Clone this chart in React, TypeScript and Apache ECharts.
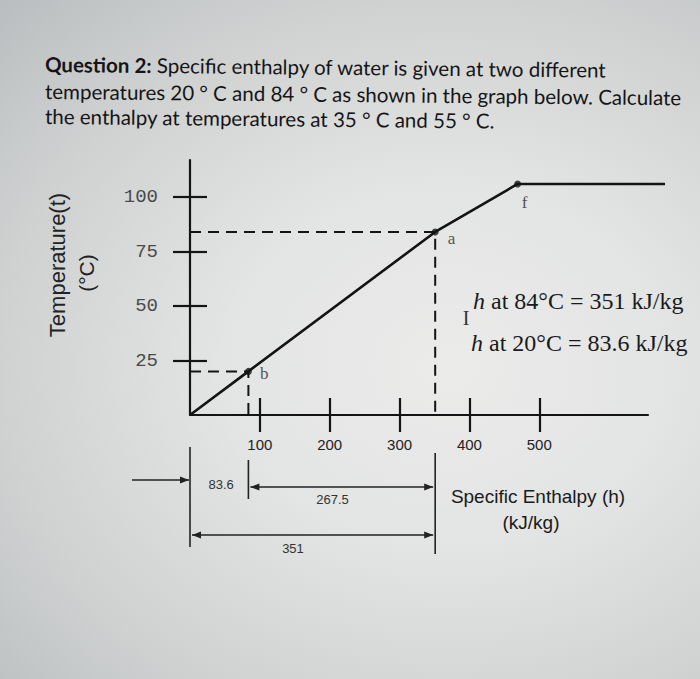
import React, { useEffect, useRef } from "react";
import * as echarts from "echarts";

// ---- data ----
const enthalpyTicks = [100, 200, 300, 400, 500];
const temperatureTicks = [25, 50, 75, 100];
const curveEnthalpy = [0, 83.6, 351, 469, 680];
const curveTemperature = [0, 20, 84, 106, 106];
const pointNames = ["b", "a", "f"];
const pointEnthalpy = [83.6, 351, 469];
const pointTemperature = [20, 84, 106];
const guideEnthalpy = [83.6, 351];
const guideTemperature = [20, 84];
const hAt20 = 83.6;
const hAt84 = 351;
const hDifference = 267.5;
const titleLines = [
  "Specific enthalpy of water is given at two different",
  "temperatures 20 ° C and 84 ° C as shown in the graph below. Calculate",
  "the enthalpy at temperatures at 35 ° C and 55 ° C.",
];
const titleLead = "Question 2:";
const noteLines = [
  { t: "84°C", h: "351 kJ/kg" },
  { t: "20°C", h: "83.6 kJ/kg" },
];

const INK = "#141414";
const SANS = "Liberation Sans, Arial, sans-serif";
const SERIF = "Liberation Serif, Times New Roman, serif";
const TITLE_FONT = "Lato, Open Sans, sans-serif";

export default function App() {
  const ref = useRef<HTMLDivElement>(null);

  useEffect(() => {
    const chart = echarts.init(ref.current as HTMLDivElement, null, { renderer: "svg" });
    const axisLine = { color: INK, width: 2.2 };

    const labelPlacement = [
      { position: "right", offset: [3, 2] },
      { position: "right", offset: [4, 7] },
      { position: "bottom", offset: [7, 2] },
    ];

    const option: any = {
      animation: false,
      backgroundColor: "transparent",
      grid: [
        { left: 190, top: 160, width: 475, height: 255, containLabel: false },
        { left: 190, top: 160, width: 458, height: 255, containLabel: false },
      ],
      xAxis: [
        {
          type: "value",
          gridIndex: 0,
          min: 0,
          max: 680,
          position: "bottom",
          axisLine: { show: false },
          axisTick: { show: true, inside: false, length: 17, lineStyle: axisLine, customValues: enthalpyTicks },
          axisLabel: { show: true, customValues: enthalpyTicks, margin: 22, fontSize: 15, color: "#222", fontFamily: SANS },
          splitLine: { show: false },
        },
        {
          type: "value",
          gridIndex: 0,
          min: 0,
          max: 680,
          position: "bottom",
          axisLine: { show: false },
          axisTick: { show: true, inside: true, length: 17, lineStyle: axisLine, customValues: enthalpyTicks },
          axisLabel: { show: false },
          splitLine: { show: false },
        },
        {
          type: "value",
          gridIndex: 1,
          min: 0,
          max: 656,
          position: "bottom",
          axisLine: { show: true, onZero: false, lineStyle: axisLine },
          axisTick: { show: false },
          axisLabel: { show: false },
          splitLine: { show: false },
        },
      ],
      yAxis: [
        {
          type: "value",
          gridIndex: 0,
          min: 0,
          max: 117,
          position: "left",
          axisLine: { show: true, onZero: false, lineStyle: axisLine },
          axisTick: { show: true, inside: false, length: 17, lineStyle: axisLine, customValues: temperatureTicks },
          axisLabel: {
            show: true,
            customValues: temperatureTicks,
            margin: 32,
            padding: [0, 0, 12, 0],
            fontSize: 19,
            color: "#4a4a4a",
            fontFamily: "Liberation Mono, DejaVu Sans Mono, monospace",
          },
          splitLine: { show: false },
        },
        {
          type: "value",
          gridIndex: 0,
          min: 0,
          max: 117,
          position: "left",
          axisLine: { show: false },
          axisTick: { show: true, inside: true, length: 17, lineStyle: axisLine, customValues: temperatureTicks },
          axisLabel: { show: false },
          splitLine: { show: false },
        },
        {
          type: "value",
          gridIndex: 1,
          min: 0,
          max: 117,
          show: false,
        },
      ],
      series: [
        {
          type: "line",
          xAxisIndex: 0,
          yAxisIndex: 0,
          symbol: "none",
          data: curveEnthalpy.map((h, i) => [h, curveTemperature[i]]),
          lineStyle: { color: INK, width: 2.6 },
          z: 4,
        },
        ...guideEnthalpy.map((h, i) => ({
          type: "line",
          xAxisIndex: 0,
          yAxisIndex: 0,
          symbol: "none",
          data: [
            [0, guideTemperature[i]],
            [h, guideTemperature[i]],
            [h, 0],
          ],
          lineStyle: { color: INK, width: 2, type: [11, 7] },
          z: 3,
        })),
        {
          type: "scatter",
          xAxisIndex: 0,
          yAxisIndex: 0,
          symbolSize: 7,
          itemStyle: { color: INK },
          label: { show: true, fontSize: 17, color: "#2a2a2a", fontFamily: SERIF },
          data: pointEnthalpy.map((h, i) => ({
            value: [h, pointTemperature[i]],
            name: pointNames[i],
            label: {
              show: true,
              formatter: pointNames[i],
              position: labelPlacement[i].position,
              offset: labelPlacement[i].offset,
              fontSize: 17,
              color: "#2a2a2a",
              fontFamily: SERIF,
            },
          })),
          z: 5,
        },
      ],
    };
    chart.setOption(option);

    const px = (h: number) => chart.convertToPixel({ xAxisIndex: 0 }, h) as number;
    const x0 = px(0);
    const x1 = px(hAt20);
    const x2 = px(hAt84);

    const dim = { stroke: "#222", lineWidth: 1.6 };
    const vline = (x: number, y1: number, y2: number) => ({
      type: "line",
      shape: { x1: x, y1, x2: x, y2 },
      style: dim,
    });
    const hline = (xa: number, xb: number, y: number) => ({
      type: "line",
      shape: { x1: xa, y1: y, x2: xb, y2: y },
      style: dim,
    });
    const head = (x: number, y: number, dir: number) => ({
      type: "polygon",
      shape: { points: [[x, y], [x - dir * 9, y - 3.5], [x - dir * 9, y + 3.5]] },
      style: { fill: "#222" },
    });
    const small = (text: string, x: number, y: number) => ({
      type: "text",
      x,
      y,
      style: { text, fontSize: 13, fontFamily: SANS, fill: "#333", align: "center", verticalAlign: "middle" },
    });

    const TS = 20.5;
    const titleStyle = { fontSize: TS, fontFamily: TITLE_FONT, fill: "#151515" };
    const titleY = [64, 91, 116];

    const graphic: any[] = [
      // title
      {
        type: "text",
        x: 45,
        y: titleY[0],
        rotation: -0.01,
        style: {
          text: "{b|" + titleLead + "} " + titleLines[0],
          ...titleStyle,
          verticalAlign: "middle",
          rich: { b: { fontWeight: "bold", fontSize: TS, fontFamily: TITLE_FONT, fill: "#151515" } },
        },
      },
      ...titleLines.slice(1).map((t, i) => ({
        type: "text",
        x: 45,
        y: titleY[i + 1],
        rotation: -0.01,
        style: { text: t, ...titleStyle, verticalAlign: "middle" },
      })),
      // y axis title
      {
        type: "text",
        x: 57,
        y: 265,
        rotation: Math.PI / 2,
        style: { text: "Temperature(t)", fontSize: 22, fontFamily: SANS, fill: "#222", align: "center", verticalAlign: "middle" },
      },
      {
        type: "text",
        x: 86,
        y: 273,
        rotation: Math.PI / 2,
        style: { text: "(°C)", fontSize: 21, fontFamily: SANS, fill: "#222", align: "center", verticalAlign: "middle" },
      },
      // x axis title
      {
        type: "text",
        x: 538,
        y: 496,
        style: { text: "Specific Enthalpy (h)", fontSize: 19, fontFamily: SANS, fill: "#1a1a1a", align: "center", verticalAlign: "middle" },
      },
      {
        type: "text",
        x: 531,
        y: 522,
        style: { text: "(kJ/kg)", fontSize: 19, fontFamily: SANS, fill: "#1a1a1a", align: "center", verticalAlign: "middle" },
      },
      // notes
      ...noteLines.map((n, i) => ({
        type: "text",
        x: 473 - i * 2,
        y: 301 + i * 42,
        style: {
          text: "{i|h} at " + n.t + " = " + n.h,
          fontSize: 24,
          fontFamily: SERIF,
          fill: "#1a1a1a",
          verticalAlign: "middle",
          rich: { i: { fontStyle: "italic", fontSize: 24, fontFamily: SERIF, fill: "#1a1a1a" } },
        },
      })),
      {
        type: "text",
        x: 466,
        y: 318,
        style: { text: "I", fontSize: 20, fontFamily: SERIF, fill: "#333", align: "center", verticalAlign: "middle" },
      },
      // dimension lines
      vline(x0, 447, 547),
      vline(x1, 460, 499),
      vline(x2, 453, 554),
      hline(132, x0 - 1, 480),
      head(x0 - 1, 480, 1),
      hline(x1 + 2, x2 - 2, 487),
      head(x1 + 2, 487, -1),
      head(x2 - 2, 487, 1),
      hline(x0 + 2, x2 - 2, 535),
      head(x0 + 2, 535, -1),
      head(x2 - 2, 535, 1),
      small(String(hAt20), (x0 + x1) / 2 + 2, 484),
      small(String(hDifference), x1 + 0.45 * (x2 - x1), 499),
      small(String(hAt84), x0 + 0.42 * (x2 - x0), 548),
    ];
    chart.setOption({ graphic });

    return () => chart.dispose();
  }, []);

  return (
    <div
      ref={ref}
      style={{
        position: "absolute",
        left: 0,
        top: 0,
        width: 700,
        height: 679,
        background:
          "radial-gradient(ellipse farthest-corner at 64% 54%, #ebebea 0%, #e3e4e4 35%, #d0d2d2 70%, #babdbf 100%)",
      }}
    />
  );
}
